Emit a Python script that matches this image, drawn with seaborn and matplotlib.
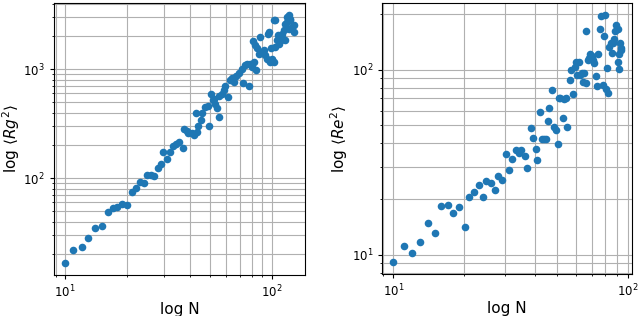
import matplotlib
matplotlib.use("Agg")
import matplotlib.pyplot as plt
import seaborn as sns
import pandas as pd

# Left panel: chain length N vs mean square radius of gyration
rg_n = [10.0, 10.9, 12.0, 12.9, 13.9, 15.0, 16.1, 17.0, 17.9, 18.9, 20.0, 21.0,
        21.9, 23.0, 24.1, 25.0, 26.0, 26.9, 28.1, 29.0, 29.7, 31.0, 32.2, 33.2,
        34.5, 35.4, 37.1, 37.8, 38.8, 39.5, 41.0, 42.1, 43.4, 43.9, 45.4, 46.2,
        42.9, 47.6, 48.9, 49.8, 50.8, 52.3, 53.3, 54.3, 55.3, 51.9, 55.7, 57.4,
        58.5, 59.6, 61.4, 63.0, 64.1, 65.4, 67.1, 69.2, 71.8, 72.6, 74.5, 75.9,
        77.3, 78.7, 80.3, 81.8, 83.9, 80.9, 83.4, 84.9, 86.5, 89.1, 91.5, 93.2,
        94.9, 96.6, 98.5, 100.4, 102.2, 95.9, 97.4, 104.2, 102.2, 106.1, 108.1,
        110.2, 112.3, 114.3, 116.5, 118.6, 120.9, 123.2, 125.5, 127.9, 127.9,
        123.2, 116.5, 111.4, 107.3, 104.0, 99.0, 88.0, 118.0, 121.0, 113.0]
rg_val = [16.8, 21.8, 23.1, 28.0, 35.0, 36.0, 49.1, 52.7, 53.8, 57.3, 56.5, 75.0,
          80.4, 91.9, 90.6, 106.5, 108, 104, 124, 134, 174, 150, 172, 198,
          205, 215, 191, 280, 272, 257, 261, 248, 266, 300, 340, 400,
          400, 451, 458, 300, 598, 538, 484, 445, 365, 523, 565, 590,
          641, 698, 557, 793, 838, 765, 862, 925, 1014, 750, 1089, 1128,
          698, 1111, 1050, 1167, 993, 1820, 1660, 1549, 1393, 1443, 1494, 1343,
          1252, 1209, 1167, 1252, 1167, 2123, 2200, 2815, 2815, 1845, 1720,
          1980, 2123, 2280, 2625, 3020, 3130, 2915, 2444, 2200, 2533,
          2815, 1845, 1845, 2051, 1603, 1549, 1980, 2700, 2350, 1900]

# Right panel: chain length N vs mean square end-to-end distance
re_n = [10.0, 11.1, 12.0, 13.0, 14.0, 15.0, 16.0, 17.1, 18.0, 19.0, 20.1, 21.0,
        22.0, 23.2, 24.1, 24.9, 26.0, 27.0, 28.0, 29.1, 30.3, 31.1, 32.1, 33.2,
        34.3, 35.1, 36.3, 37.2, 38.5, 39.4, 40.7, 41.1, 42.2, 42.9, 43.9, 44.8,
        45.4, 46.1, 47.2, 48.4, 49.2, 50.4, 50.9, 51.4, 52.6, 53.4, 54.3, 55.2,
        56.7, 57.1, 58.4, 59.6, 60.1, 60.9, 61.9, 62.5, 63.4, 64.2, 65.1, 66.1,
        66.5, 67.3, 68.4, 69.0, 70.0, 70.6, 71.8, 73.0, 73.7, 74.7, 75.7, 76.7,
        77.9, 78.7, 79.7, 80.5, 81.3, 81.8, 83.2, 84.6, 85.1, 86.0, 87.4, 88.0,
        88.8, 90.3, 90.3, 91.2, 91.8, 92.7, 93.3, 93.3]
re_val = [9.2, 11.2, 10.3, 11.7, 14.9, 13.2, 18.3, 18.7, 16.9, 18.2, 14.1, 20.6,
          21.9, 23.8, 20.6, 25.0, 24.5, 22.5, 26.6, 25.5, 35.2, 28.6, 33.0, 37.0,
          35.5, 37.0, 34.4, 29.5, 48.4, 42.7, 37.5, 32.7, 58.7, 42.2, 42.2, 42.2,
          52.5, 62.0, 77.7, 48.8, 47.4, 39.7, 70.2, 70.7, 54.7, 69.3, 70.7, 48.8,
          88.0, 99.5, 73.6, 103.7, 110.3, 93.6, 110.3, 93.6, 96.4, 86.2, 95.5, 85.1,
          161.5, 112.7, 116, 120.9, 118, 112.7, 108, 92.5, 81.7, 121, 165, 195,
          82.7, 151.7, 196.7, 78.7, 102.5, 74.6, 133, 139.6, 122.4, 138.6, 145.5, 162,
          174, 165, 110.3, 100.4, 120.9, 138.6, 130.2, 127.4]

rg_df = pd.DataFrame({"N": rg_n, "value": rg_val})
re_df = pd.DataFrame({"N": re_n, "value": re_val})

plt.rcParams["xtick.labelsize"] = 8.5
plt.rcParams["ytick.labelsize"] = 8.5
plt.rcParams["xtick.major.size"] = 2.8
plt.rcParams["ytick.major.size"] = 2.8
plt.rcParams["xtick.minor.size"] = 1.6
plt.rcParams["ytick.minor.size"] = 1.6

fig = plt.figure(figsize=(6.4, 3.16), dpi=100)
ax_left = fig.add_axes([0.084, 0.130, 0.393, 0.861])
ax_right = fig.add_axes([0.597, 0.133, 0.391, 0.858])

panels = [
    (ax_left, rg_df, r"log $\langle Rg^2\rangle$"),
    (ax_right, re_df, r"log $\langle Re^2\rangle$"),
]

for ax, df, ylabel in panels:
    ax.set_xscale("log")
    ax.set_yscale("log")
    sns.scatterplot(data=df, x="N", y="value", ax=ax, s=30, linewidth=0,
                    zorder=3)
    ax.set_xlabel("log N", fontsize=11, labelpad=1)
    ax.set_ylabel(ylabel, fontsize=11, labelpad=1)

fig.canvas.draw()

# grid lines at the major and minor tick positions of each log axis
for ax, _, _ in panels:
    ax.grid(False)
    xlim = ax.get_xlim()
    ylim = ax.get_ylim()
    xlocs = list(ax.xaxis.get_majorticklocs()) + list(ax.xaxis.get_minorticklocs())
    ylocs = list(ax.yaxis.get_majorticklocs()) + list(ax.yaxis.get_minorticklocs())
    for loc in xlocs:
        if xlim[0] <= loc <= xlim[1]:
            ax.axvline(loc, color="#b0b0b0", linewidth=0.8, zorder=1)
    for loc in ylocs:
        if ylim[0] <= loc <= ylim[1]:
            ax.axhline(loc, color="#b0b0b0", linewidth=0.8, zorder=1)
    ax.set_xlim(xlim)
    ax.set_ylim(ylim)

fig.savefig("out.png", dpi=100)
